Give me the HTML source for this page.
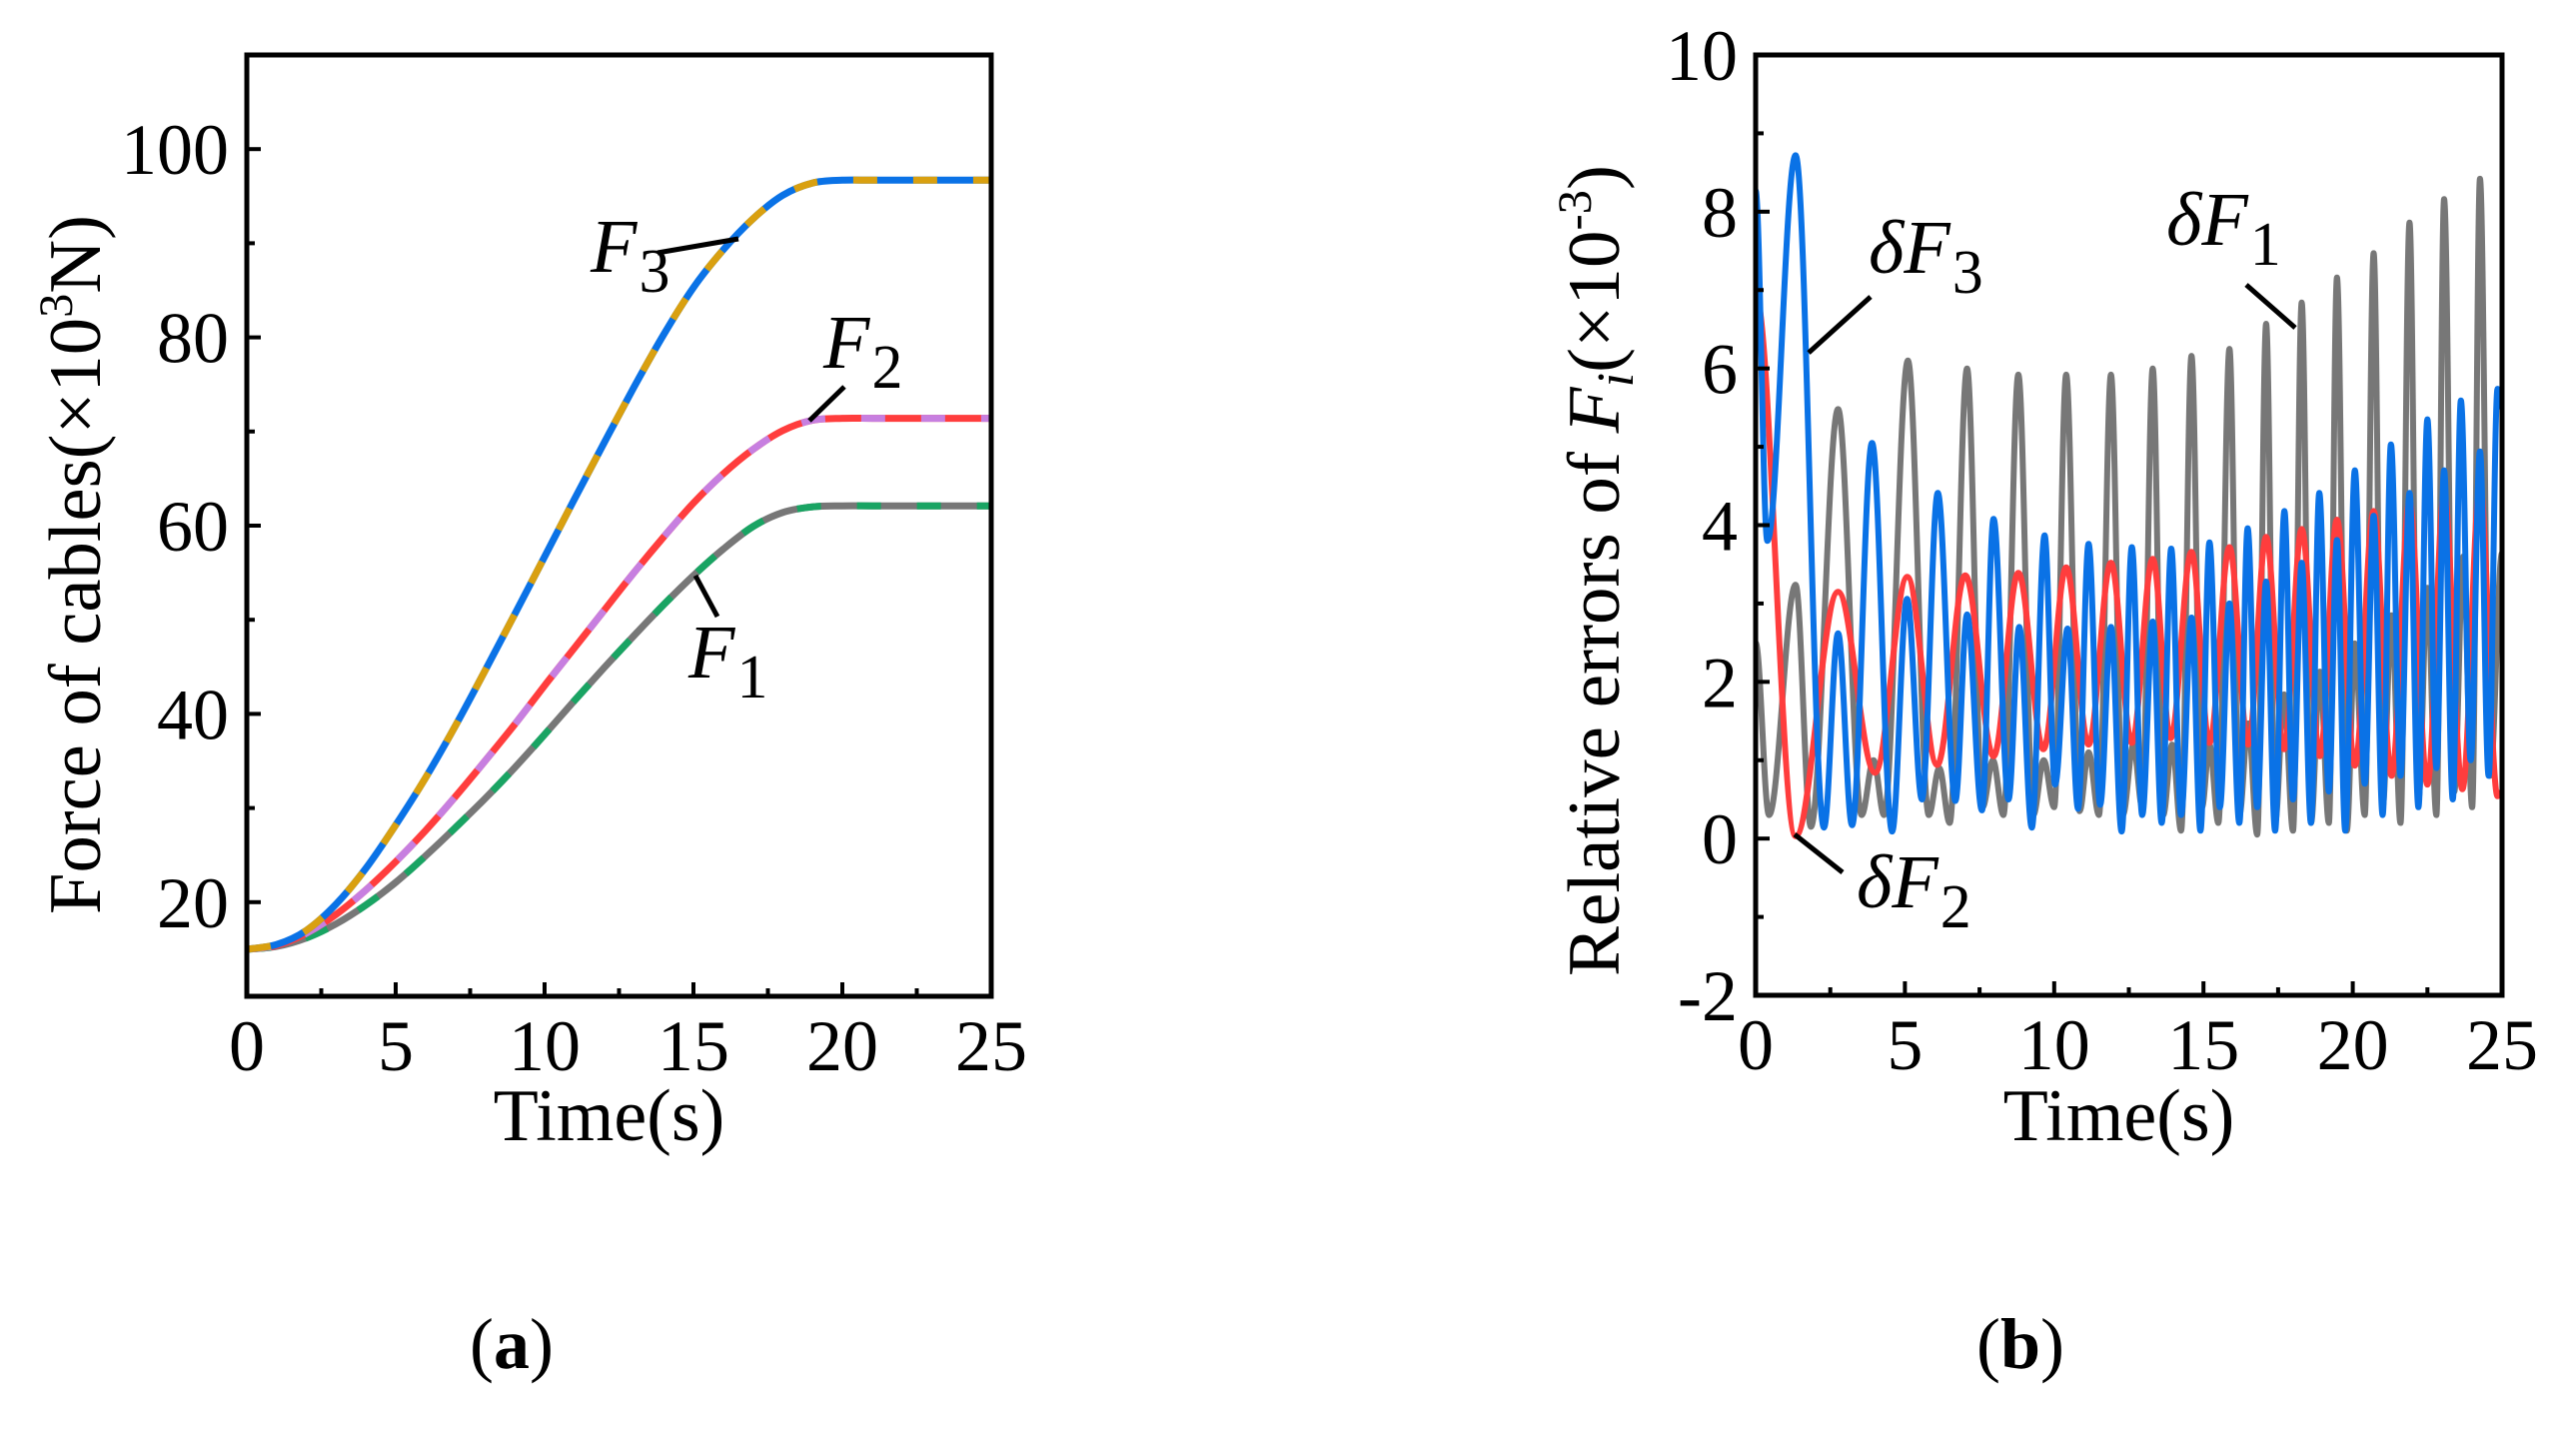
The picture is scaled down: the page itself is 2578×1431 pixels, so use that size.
<!DOCTYPE html>
<html><head><meta charset="utf-8"><style>
html,body{margin:0;padding:0;background:#fff;}
svg{display:block;font-family:"Liberation Serif","DejaVu Serif",serif;}
</style></head><body>
<svg id="fig" width="2578" height="1431" viewBox="0 0 2578 1431" xmlns="http://www.w3.org/2000/svg">
<rect width="2578" height="1431" fill="#fff"/>
<g id="pa"></g>
<g id="pb"></g>
<text x="512" y="1369" font-size="72" text-anchor="middle">(<tspan font-weight="bold">a</tspan>)</text>
<text x="2022" y="1369" font-size="72" text-anchor="middle">(<tspan font-weight="bold">b</tspan>)</text>
</svg>
<script>
// ---------- Panel (a) data ----------
const timeA = [0,1,2,3,4,5,6,7,8,9,10,11,12,13,14,15,16,17,18,19,20,21,22,23,24,25];
const forceF3 = [15,15.5,17,19.8,23.6,28.2,33.2,38.7,44.6,50.6,56.7,62.8,68.8,74.7,80.3,85.3,89.3,92.6,95.1,96.4,96.7,96.7,96.7,96.7,96.7,96.7];
const forceF2 = [15,15.4,16.7,18.7,21.3,24.3,27.6,31.2,35,38.9,43,47,51,55,58.8,62.4,65.5,68.1,70.1,71.2,71.4,71.4,71.4,71.4,71.4,71.4];
const forceF1 = [15,15.3,16.2,17.7,19.7,22.1,24.9,27.9,31,34.3,37.8,41.4,44.9,48.3,51.6,54.7,57.5,59.9,61.4,62,62.1,62.1,62.1,62.1,62.1,62.1];
const yTicksA = [20,40,60,80,100];
const xTicks = [0,5,10,15,20,25];

// ---------- Panel (b) data (extrema: time, value) ----------
const dF1t = [0,0.45,1.34,1.85,2.76,3.55,3.95,4.3,5.1,5.8,6.15,6.5,7.08,7.6,7.95,8.3,8.8,9.3,9.65,10.0,10.4,10.85,11.15,11.5,11.9,12.3,12.65,12.95,13.3,13.65,13.95,14.25,14.6,14.95,15.2,15.5,15.87,16.2,16.5,16.8,17.1,17.4,17.7,18.0,18.29,18.6,18.9,19.2,19.47,19.8,20.07,20.4,20.7,21.0,21.3,21.6,21.9,22.2,22.5,22.8,23.06,23.4,23.7,24.0,24.26,24.6,25];
const dF1v = [2.5,0.3,3.24,0.15,5.48,0.3,1.0,0.3,6.1,0.3,0.9,0.2,6.0,0.4,1.0,0.3,5.92,0.3,1.0,0.4,5.92,0.35,1.1,0.3,5.92,0.3,1.2,0.4,6.0,0.3,1.2,0.1,6.16,0.4,1.2,0.2,6.25,0.3,1.47,0.05,6.57,0.2,1.84,0.1,6.84,0.2,2.13,0.2,7.16,0.1,2.49,0.3,7.47,0.4,2.85,0.2,7.86,0.5,3.2,0.3,8.16,0.6,3.6,0.4,8.42,0.8,3.64];
const dF2t = [0,1.34,2.76,4.0,5.08,6.08,7.02,7.97,8.8,9.64,10.4,11.15,11.9,12.6,13.3,13.9,14.6,15.2,15.87,16.5,17.1,17.7,18.29,18.9,19.47,20.07,20.7,21.3,21.9,22.5,23.06,23.67,24.26,24.85,25];
const dF2v = [6.95,0.03,3.15,0.84,3.34,0.94,3.36,1.05,3.39,1.14,3.46,1.2,3.52,1.22,3.57,1.28,3.66,1.22,3.72,1.2,3.85,1.14,3.95,1.05,4.07,0.93,4.18,0.8,4.3,0.69,4.4,0.63,4.5,0.54,0.6];
const dF3t = [0,0.39,1.34,2.29,2.76,3.23,3.9,4.57,5.07,5.57,6.1,6.69,7.08,7.58,7.97,8.47,8.83,9.25,9.68,10.03,10.45,10.8,11.15,11.54,11.9,12.26,12.6,12.95,13.3,13.6,13.92,14.25,14.6,14.9,15.2,15.55,15.87,16.2,16.48,16.8,17.1,17.4,17.71,18.0,18.29,18.6,18.88,19.2,19.47,19.75,20.07,20.4,20.7,21.0,21.28,21.6,21.9,22.2,22.5,22.8,23.06,23.35,23.62,23.95,24.26,24.55,24.85,25];
const dF3v = [8.27,3.8,8.72,0.14,2.62,0.17,5.05,0.09,3.06,0.5,4.41,0.48,2.86,0.36,4.08,0.5,2.7,0.14,3.87,0.69,2.68,0.38,3.76,0.43,2.7,0.09,3.72,0.3,2.77,0.2,3.7,0.3,2.82,0.1,3.78,0.4,3.0,0.2,3.96,0.4,3.28,0.1,4.18,0.5,3.52,0.2,4.41,0.6,3.81,0.1,4.7,0.7,4.12,0.3,5.03,0.8,4.41,0.4,5.35,0.9,4.7,0.5,5.59,1.0,4.94,0.8,5.74,5.5];
const yTicksB = [-2,0,2,4,6,8,10];

const NS = "http://www.w3.org/2000/svg";
function mk(parent, tag, attrs){ const e=document.createElementNS(NS,tag); for(const k in attrs) e.setAttribute(k,attrs[k]); parent.appendChild(e); return e; }

const A = {l:247,r:992,t:55,b:997,x0:0,x1:25,y0:10,y1:110};
const B = {l:1757,r:2504,t:55,b:996,x0:0,x1:25,y0:-2,y1:10};
function sx(P,v){return P.l+(v-P.x0)/(P.x1-P.x0)*(P.r-P.l);}
function sy(P,v){return P.b-(v-P.y0)/(P.y1-P.y0)*(P.b-P.t);}

function catmull(P,xs,ys){
  const pts=xs.map((x,i)=>[sx(P,x),sy(P,ys[i])]);
  let d="M"+pts[0][0].toFixed(1)+","+pts[0][1].toFixed(1);
  for(let i=0;i<pts.length-1;i++){
    const p0=pts[Math.max(0,i-1)],p1=pts[i],p2=pts[i+1],p3=pts[Math.min(pts.length-1,i+2)];
    const c1=[p1[0]+(p2[0]-p0[0])/6,p1[1]+(p2[1]-p0[1])/6];
    const c2=[p2[0]-(p3[0]-p1[0])/6,p2[1]-(p3[1]-p1[1])/6];
    d+=" C"+c1[0].toFixed(1)+","+c1[1].toFixed(1)+" "+c2[0].toFixed(1)+","+c2[1].toFixed(1)+" "+p2[0].toFixed(1)+","+p2[1].toFixed(1);
  }
  return d;
}
function extremaPath(P,ts,vs){
  let d="M"+sx(P,ts[0]).toFixed(1)+","+sy(P,vs[0]).toFixed(1);
  for(let i=0;i<ts.length-1;i++){
    const x1=sx(P,ts[i]),y1=sy(P,vs[i]),x2=sx(P,ts[i+1]),y2=sy(P,vs[i+1]);
    const dx=(x2-x1)*0.36;
    d+=" C"+(x1+dx).toFixed(1)+","+y1.toFixed(1)+" "+(x2-dx).toFixed(1)+","+y2.toFixed(1)+" "+x2.toFixed(1)+","+y2.toFixed(1);
  }
  return d;
}

function axes(g,P,yTicks,yMinor,xMinor,prefix){
  const box=mk(g,"rect",{x:P.l,y:P.t,width:P.r-P.l,height:P.b-P.t,fill:"none",stroke:"#000","stroke-width":5});
  
  
  xTicks.forEach(v=>{
    const x=sx(P,v);
    const t=mk(g,"line",{x1:x,y1:P.b,x2:x,y2:P.b-14,stroke:"#000","stroke-width":4});
    
    
    const lb=mk(g,"text",{x:x,y:P.b+74,"font-size":72,"text-anchor":"middle"});
    lb.textContent=v;
    
    
  });
  xMinor.forEach(v=>{
    const x=sx(P,v);
    const t=mk(g,"line",{x1:x,y1:P.b,x2:x,y2:P.b-8,stroke:"#000","stroke-width":4});
    
    
  });
  yTicks.forEach(v=>{
    const y=sy(P,v);
    const t=mk(g,"line",{x1:P.l,y1:y,x2:P.l+14,y2:y,stroke:"#000","stroke-width":4});
    
    
    const lb=mk(g,"text",{x:P.l-18,y:y+25,"font-size":72,"text-anchor":"end"});
    lb.textContent=v;
    
    
  });
  yMinor.forEach(v=>{
    const y=sy(P,v);
    const t=mk(g,"line",{x1:P.l,y1:y,x2:P.l+8,y2:y,stroke:"#000","stroke-width":4});
    
    
  });
  const xt=mk(g,"text",{x:(P.l+P.r)/2-10,y:1141,"font-size":74,"text-anchor":"middle"});
  xt.textContent="Time(s)";
  
  
}

function line(g,P,d,color,w,name,dash){
  const p=mk(g,"path",{d:d,fill:"none",stroke:color,"stroke-width":w,"stroke-linejoin":"round","stroke-linecap":"butt"});
  if(dash) p.setAttribute("stroke-dasharray",dash);
  
  
  return p;
}
function label(g,x,y,main,sub,name,delta){
  const t=mk(g,"text",{x:x,y:y,"font-size":76});
  
  
  const m=mk(t,"tspan",{"font-style":"italic"}); m.textContent=(delta?"δ":"")+main;
  const s=mk(t,"tspan",{dx:2,dy:20,"font-size":62}); s.textContent=sub;
}
function leader(g,x1,y1,x2,y2,name){
  const l=mk(g,"line",{x1:x1,y1:y1,x2:x2,y2:y2,stroke:"#000","stroke-width":5});
  
  
}

// ---- Panel a ----
const ga=document.getElementById("pa");
line(ga,A,catmull(A,timeA,forceF1),"#777777",7,"f1-simulated-line");
line(ga,A,catmull(A,timeA,forceF1),"#19a463",7,"f1-theoretical-line","24 36");
line(ga,A,catmull(A,timeA,forceF2),"#ff3d3d",7,"f2-simulated-line");
line(ga,A,catmull(A,timeA,forceF2),"#c77fe0",7,"f2-theoretical-line","24 36");
line(ga,A,catmull(A,timeA,forceF3),"#0a72e6",7,"f3-simulated-line");
line(ga,A,catmull(A,timeA,forceF3),"#d9a010",7,"f3-theoretical-line","24 36");
axes(ga,A,yTicksA,[30,50,70,90],[2.5,7.5,12.5,17.5,22.5],"panel-a");
const yta=mk(ga,"text",{x:0,y:0,"font-size":74,"text-anchor":"middle",transform:"translate(100,565) rotate(-90)",textLength:700,lengthAdjust:"spacingAndGlyphs"});


yta.innerHTML='Force of cables(×10<tspan dy="-28" font-size="48">3</tspan><tspan dy="28">N)</tspan>';
label(ga,591,272,"F","3","f3-label");
leader(ga,658,253,739,239,"f3-leader");
label(ga,824,368,"F","2","f2-label");
leader(ga,810,421,845,387,"f2-leader");
label(ga,689,678,"F","1","f1-label");
leader(ga,696,576,718,617,"f1-leader");

// ---- Panel b ----
const gb=document.getElementById("pb");
const clip=mk(gb,"clipPath",{id:"cb"}); mk(clip,"rect",{x:B.l,y:B.t,width:B.r-B.l,height:B.b-B.t});
const gl=mk(gb,"g",{"clip-path":"url(#cb)"});
line(gl,B,extremaPath(B,dF1t,dF1v),"#777777",6,"delta-f1-line");
line(gl,B,extremaPath(B,dF2t,dF2v),"#ff3d3d",6,"delta-f2-line");
line(gl,B,extremaPath(B,dF3t,dF3v),"#0a72e6",6,"delta-f3-line");
axes(gb,B,yTicksB,[-1,1,3,5,7,9],[2.5,7.5,12.5,17.5,22.5],"panel-b");
const ytb=mk(gb,"text",{x:0,y:0,"font-size":74,"text-anchor":"middle",transform:"translate(1620,571) rotate(-90)",textLength:812,lengthAdjust:"spacingAndGlyphs"});


ytb.innerHTML='Relative errors of <tspan font-style="italic">F</tspan><tspan font-style="italic" dy="14" font-size="52">i</tspan><tspan dy="-14">(×10</tspan><tspan dy="-28" font-size="48">-3</tspan><tspan dy="28">)</tspan>';
label(gb,1870,273,"F","3","delta-f3-label",true);
leader(gb,1872,297,1810,353,"delta-f3-leader");
label(gb,2168,245,"F","1","delta-f1-label",true);
leader(gb,2248,285,2297,328,"delta-f1-leader");
label(gb,1858,908,"F","2","delta-f2-label",true);
leader(gb,1796,835,1844,873,"delta-f2-leader");
</script>
</body></html>
